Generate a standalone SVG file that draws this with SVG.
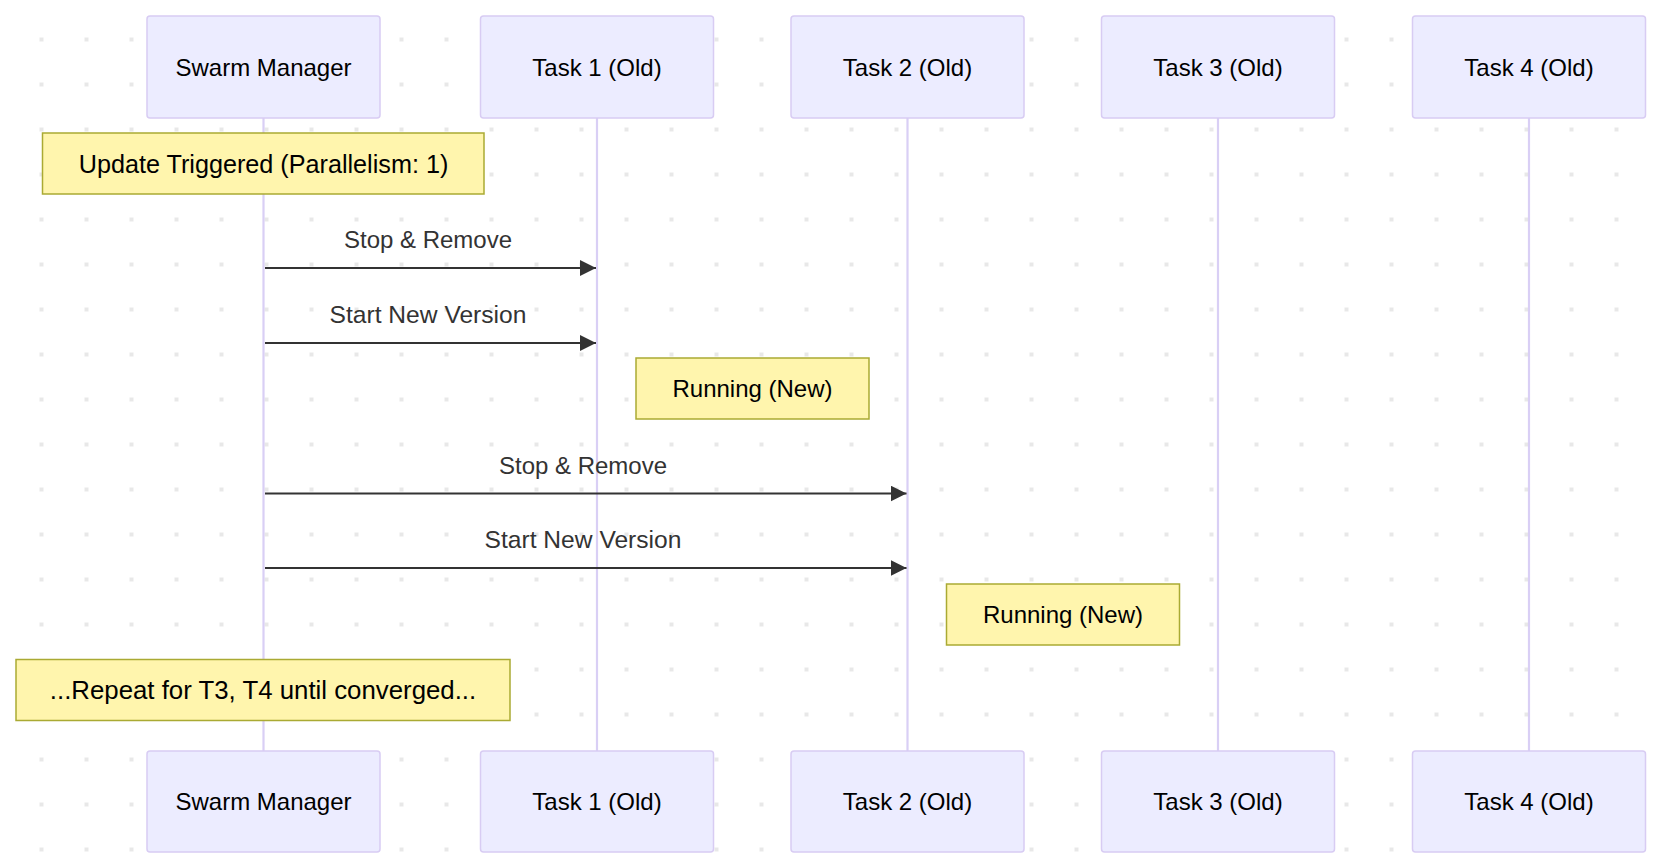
<svg xmlns="http://www.w3.org/2000/svg" width="1655" height="865" viewBox="0 0 1655 865">
<defs>
<pattern id="dots" patternUnits="userSpaceOnUse" x="39.5" y="37.5" width="45" height="45">
<rect x="0" y="0" width="4" height="4" fill="#e8e8e8"/>
</pattern>
<marker id="arrow" markerUnits="userSpaceOnUse" viewBox="0 0 16 16" refX="16" refY="8" markerWidth="16" markerHeight="16" orient="auto">
<path d="M0,0 L16,8 L0,16 Z" fill="#333333"/>
</marker>
<style>
.actor{fill:#ECECFF;stroke:#D8CCF3;stroke-width:1.5}
.atext{font-family:"Liberation Sans",Arial,sans-serif;font-size:24px;fill:#000;text-anchor:middle}
.life{stroke:#D9CFF5;stroke-width:2.2}
.note{fill:#FFF5AD;stroke:#AAAA33;stroke-width:1.5}
.ntext{font-family:"Liberation Sans",Arial,sans-serif;font-size:24px;fill:#000;text-anchor:middle}
.msg{stroke:#333333;stroke-width:2;fill:none;marker-end:url(#arrow)}
.mtext{font-family:"Liberation Sans",Arial,sans-serif;font-size:24px;fill:#333333;text-anchor:middle}
</style>
</defs>
<rect x="0" y="0" width="1655" height="865" fill="#ffffff"/>
<rect x="0" y="0" width="1655" height="865" fill="url(#dots)"/>
<g id="lifelines">
<line class="life" x1="263.5" y1="118" x2="263.5" y2="751"/>
<line class="life" x1="597" y1="118" x2="597" y2="751"/>
<line class="life" x1="907.5" y1="118" x2="907.5" y2="751"/>
<line class="life" x1="1218" y1="118" x2="1218" y2="751"/>
<line class="life" x1="1529" y1="118" x2="1529" y2="751"/>
</g>
<g id="actor-swarm-top"><rect class="actor" x="147" y="16" width="233" height="102" rx="3"/><text class="atext" x="263.5" y="76">Swarm Manager</text></g>
<g id="actor-t1-top"><rect class="actor" x="480.5" y="16" width="233" height="102" rx="3"/><text class="atext" x="597" y="76">Task 1 (Old)</text></g>
<g id="actor-t2-top"><rect class="actor" x="791" y="16" width="233" height="102" rx="3"/><text class="atext" x="907.5" y="76">Task 2 (Old)</text></g>
<g id="actor-t3-top"><rect class="actor" x="1101.5" y="16" width="233" height="102" rx="3"/><text class="atext" x="1218" y="76">Task 3 (Old)</text></g>
<g id="actor-t4-top"><rect class="actor" x="1412.5" y="16" width="233" height="102" rx="3"/><text class="atext" x="1529" y="76">Task 4 (Old)</text></g>
<g id="note-update"><rect class="note" x="42.5" y="133" width="441.5" height="61"/><text class="ntext" x="263.5" y="173" style="font-size:25.2px">Update Triggered (Parallelism: 1)</text></g>
<g id="connectors">
<line class="msg" x1="265" y1="268" x2="596" y2="268"/>
<text class="mtext" x="428" y="248">Stop &amp; Remove</text>
<line class="msg" x1="265" y1="343" x2="596" y2="343"/>
<text class="mtext" x="428" y="323" style="font-size:24.6px">Start New Version</text>
<line class="msg" x1="265" y1="493.5" x2="906.5" y2="493.5"/>
<text class="mtext" x="583" y="473.5">Stop &amp; Remove</text>
<line class="msg" x1="265" y1="568" x2="906.5" y2="568"/>
<text class="mtext" x="583" y="548" style="font-size:24.6px">Start New Version</text>
</g>
<g id="note-running-1"><rect class="note" x="636" y="358" width="233" height="61"/><text class="ntext" x="752.5" y="397">Running (New)</text></g>
<g id="note-running-2"><rect class="note" x="946.5" y="584" width="233" height="61"/><text class="ntext" x="1063" y="623">Running (New)</text></g>
<g id="note-repeat"><rect class="note" x="16" y="659.5" width="494" height="61"/><text class="ntext" x="263" y="698.5" style="font-size:25.8px">...Repeat for T3, T4 until converged...</text></g>
<g id="actor-swarm-bottom"><rect class="actor" x="147" y="751" width="233" height="101" rx="3"/><text class="atext" x="263.5" y="810">Swarm Manager</text></g>
<g id="actor-t1-bottom"><rect class="actor" x="480.5" y="751" width="233" height="101" rx="3"/><text class="atext" x="597" y="810">Task 1 (Old)</text></g>
<g id="actor-t2-bottom"><rect class="actor" x="791" y="751" width="233" height="101" rx="3"/><text class="atext" x="907.5" y="810">Task 2 (Old)</text></g>
<g id="actor-t3-bottom"><rect class="actor" x="1101.5" y="751" width="233" height="101" rx="3"/><text class="atext" x="1218" y="810">Task 3 (Old)</text></g>
<g id="actor-t4-bottom"><rect class="actor" x="1412.5" y="751" width="233" height="101" rx="3"/><text class="atext" x="1529" y="810">Task 4 (Old)</text></g>
</svg>
